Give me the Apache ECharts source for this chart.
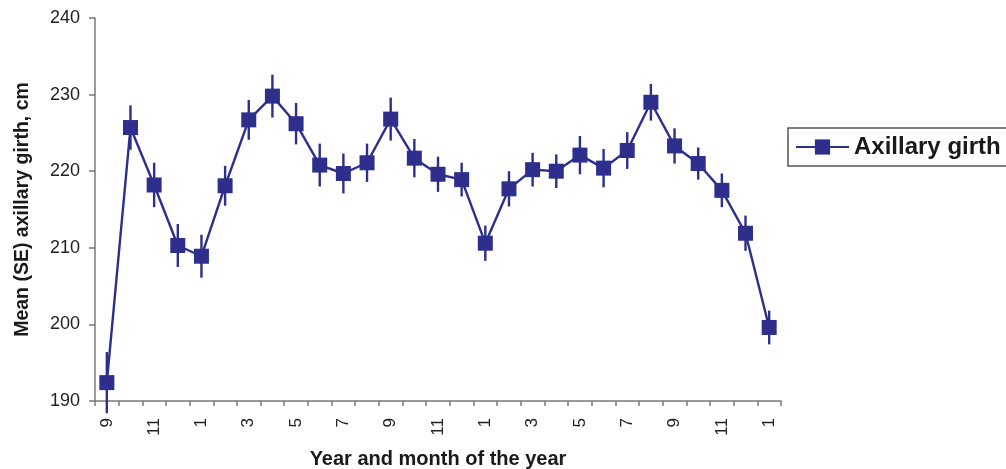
<!DOCTYPE html>
<html>
<head>
<meta charset="utf-8">
<script src="https://cdn.jsdelivr.net/npm/echarts@6/dist/echarts.min.js"></script>
<style>
  html, body { margin: 0; padding: 0; background: #fff; }
  #chart { width: 1006px; height: 469px; }
</style>
</head>
<body>
<div id="chart"></div>
<script>
// Month of observation (September of year one through January of year four)
const months = ['9','10','11','12','1','2','3','4','5','6','7','8','9','10','11','12',
                '1','2','3','4','5','6','7','8','9','10','11','12','1'];
// Mean axillary girth, cm
const girthMean = [192.4, 225.7, 218.2, 210.3, 208.9, 218.1, 226.7, 229.8, 226.2, 220.8,
                   219.7, 221.1, 226.8, 221.7, 219.6, 218.9, 210.6, 217.7, 220.2, 220.0,
                   222.1, 220.4, 222.7, 229.0, 223.3, 221.0, 217.5, 211.9, 199.6];
// Standard error of the mean, cm
const girthSE = [4.0, 2.9, 2.9, 2.8, 2.8, 2.6, 2.6, 2.8, 2.7, 2.8,
                 2.6, 2.5, 2.8, 2.5, 2.3, 2.2, 2.3, 2.3, 2.2, 2.2,
                 2.5, 2.5, 2.4, 2.4, 2.3, 2.1, 2.2, 2.3, 2.2];
const yTicks = { min: 190, max: 240, step: 10 };

const navy = '#2E2E8C';
const axisGray = '#7a7a7a';
const font = 'Liberation Sans, Arial, Helvetica, sans-serif';

const errorData = girthMean.map((m, i) => [i, m - girthSE[i], m + girthSE[i]]);

const chart = echarts.init(document.getElementById('chart'), null, { renderer: 'canvas' });
chart.setOption({
  animation: false,
  backgroundColor: '#ffffff',
  grid: { left: 95, right: 225, top: 18, bottom: 68, containLabel: false, outerBoundsMode: 'none' },
  legend: {
    left: 788, top: 128,
    padding: [7, 40, 7, 7],
    borderColor: '#555555', borderWidth: 1.5,
    itemWidth: 53, itemHeight: 19,
    textStyle: { fontFamily: font, fontSize: 24, fontWeight: 'bold', color: '#1a1a1a' },
    data: ['Axillary girth']
  },
  xAxis: {
    type: 'category',
    data: months,
    boundaryGap: true,
    name: 'Year and month of the year',
    nameLocation: 'middle',
    nameGap: 48,
    nameTextStyle: { fontFamily: font, fontSize: 20, fontWeight: 'bold', color: '#1a1a1a' },
    axisLine: { lineStyle: { color: axisGray, width: 1.5 } },
    axisTick: { show: true, interval: 0, length: 5, lineStyle: { color: axisGray, width: 1.5 } },
    axisLabel: { interval: 1, rotate: 90, margin: 17, fontFamily: font, fontSize: 17, color: '#222222' },
    splitLine: { show: false }
  },
  yAxis: {
    type: 'value',
    min: yTicks.min, max: yTicks.max, interval: yTicks.step,
    name: 'Mean (SE) axillary girth, cm',
    nameLocation: 'middle',
    nameGap: 62,
    nameTextStyle: { fontFamily: font, fontSize: 19.5, fontWeight: 'bold', color: '#1a1a1a' },
    axisLine: { show: true, lineStyle: { color: axisGray, width: 1.5 } },
    axisTick: { show: true, length: 6, lineStyle: { color: axisGray, width: 1.5 } },
    axisLabel: { margin: 15, fontFamily: font, fontSize: 18, color: '#222222' },
    splitLine: { show: false }
  },
  series: [
    {
      name: 'SE',
      type: 'custom',
      clip: false,
      z: 3,
      data: errorData,
      renderItem: function (params, api) {
        const lo = api.coord([api.value(0), api.value(1)]);
        const hi = api.coord([api.value(0), api.value(2)]);
        return {
          type: 'line',
          shape: { x1: lo[0], y1: lo[1], x2: hi[0], y2: hi[1] },
          style: { stroke: navy, lineWidth: 2.4 }
        };
      }
    },
    {
      name: 'Axillary girth',
      type: 'line',
      data: girthMean,
      symbol: 'rect',
      symbolSize: 15,
      lineStyle: { color: navy, width: 2.4 },
      itemStyle: { color: navy, borderWidth: 0 },
      z: 4
    }
  ]
});
</script>
</body>
</html>
